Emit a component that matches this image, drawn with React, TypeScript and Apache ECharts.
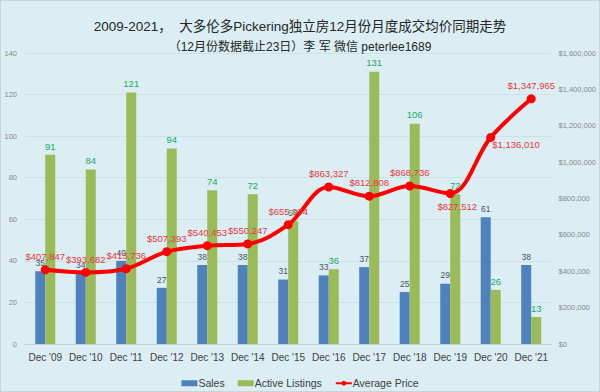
import React, { useEffect, useRef } from "react";
import * as echarts from "echarts";

const categories = ["Dec '09", "Dec '10", "Dec '11", "Dec '12", "Dec '13", "Dec '14", "Dec '15", "Dec '16", "Dec '17", "Dec '18", "Dec '19", "Dec '20", "Dec '21"];
const sales = [35, 34, 40, 27, 38, 38, 31, 33, 37, 25, 29, 61, 38];
const listings = [91, 84, 121, 94, 74, 72, 59, 36, 131, 106, 72, 26, 13];
const avgPrice = [407847, 393682, 413736, 507393, 540453, 550247, 655974, 863327, 812808, 868736, 827512, 1136010, 1347965];
const leftTicks = { min: 0, max: 140, interval: 20 };
const rightTicks = { min: 0, max: 1600000, interval: 200000 };

const FONT = "'Liberation Sans', 'Noto Sans CJK SC', sans-serif";

function fmtMoney(v: number) {
  return "$" + v.toString().replace(/\B(?=(\d{3})+(?!\d))/g, ",");
}

export default function App() {
  const ref = useRef<HTMLDivElement>(null);
  useEffect(() => {
    if (!ref.current) return;
    const chart = echarts.init(ref.current, undefined, { renderer: "svg" });
    const priceData = avgPrice.map((v, i) => {
      let label: any = { position: "top" };
      if (i === 10) label = { position: "bottom", offset: [7, 0] };
      if (i === 11) label = { position: "right", distance: -3, offset: [0, 7] };
      return { value: v, label };
    });
    chart.setOption({
      animation: false,
      backgroundColor: "#DAEEF3",
      textStyle: { fontFamily: FONT },
      title: [
        {
          text: "2009-2021，  大多伦多Pickering独立房12月份月度成交均价同期走势",
          left: "center",
          top: 14,
          textStyle: { fontFamily: FONT, fontSize: 13.5, fontWeight: "normal", color: "#262626" },
        },
        {
          text: "（12月份数据截止23日）李 军 微信 peterlee1689",
          left: "center",
          top: 35,
          textStyle: { fontFamily: FONT, fontSize: 12, fontWeight: "normal", color: "#262626" },
        },
      ],
      legend: {
        left: "center",
        top: 372,
        itemWidth: 16,
        itemHeight: 6,
        itemGap: 13,
        textStyle: { fontSize: 10.5, color: "#404040", fontFamily: FONT, padding: [0, 0, 0, -4] },
        data: [
          { name: "Sales", icon: "rect" },
          { name: "Active Listings", icon: "rect" },
          { name: "Average Price" },
        ],
      },
      grid: { left: 24, right: 46, top: 52, bottom: 47 },
      xAxis: {
        type: "category",
        data: categories,
        axisLine: { lineStyle: { color: "#c5d3d8" } },
        axisTick: { show: false },
        axisLabel: { color: "#404040", fontSize: 10, margin: 8, interval: 0 },
      },
      yAxis: [
        {
          type: "value",
          ...leftTicks,
          axisLine: { show: false },
          axisTick: { show: false },
          axisLabel: { color: "#8a8a8a", fontSize: 7.5, margin: 8 },
          splitLine: { lineStyle: { color: "#cde1e8" } },
        },
        {
          type: "value",
          ...rightTicks,
          axisLine: { show: false },
          axisTick: { show: false },
          axisLabel: { color: "#8a8a8a", fontSize: 7.5, margin: 7, formatter: (v: number) => fmtMoney(v) },
          splitLine: { show: false },
        },
      ],
      series: [
        {
          name: "Sales",
          type: "bar",
          data: sales,
          barWidth: 10,
          barGap: "0%",
          itemStyle: { color: "#4F81BD" },
          label: { show: true, position: "top", color: "#44546A", fontSize: 8.5, distance: 4 },
        },
        {
          name: "Active Listings",
          type: "bar",
          data: listings,
          barWidth: 10,
          itemStyle: { color: "#9BBB59" },
          label: { show: true, position: "top", color: "#22A866", fontSize: 9.5, distance: 4 },
        },
        {
          name: "Average Price",
          type: "line",
          yAxisIndex: 1,
          data: priceData,
          smooth: 0.35,
          symbol: "circle",
          symbolSize: 9,
          lineStyle: { color: "#FF0000", width: 4 },
          itemStyle: { color: "#FF0000" },
          label: { show: true, color: "#E8383D", fontSize: 9.5, distance: 4, formatter: (p: any) => fmtMoney(p.value) },
          z: 5,
        },
      ],
    });
    return () => chart.dispose();
  }, []);
  return (
    <div
      ref={ref}
      style={{ position: "absolute", left: 0, top: 0, width: 600, height: 392, boxSizing: "border-box", border: "1px solid #c9d5d9" }}
    />
  );
}
